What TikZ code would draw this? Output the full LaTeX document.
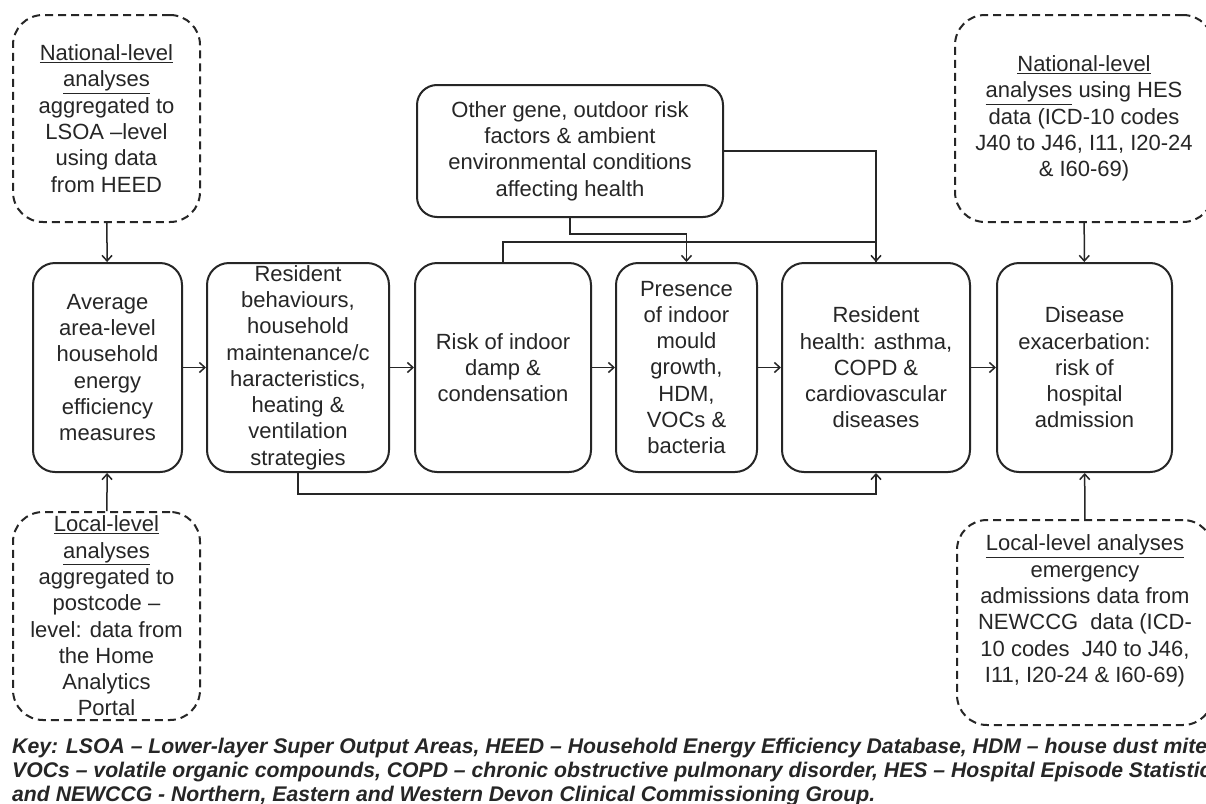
\documentclass[tikz,border=0pt]{standalone}
\usepackage{fontspec}
\setmainfont{Liberation Sans}
\usetikzlibrary{arrows.meta}
\definecolor{ink}{RGB}{38,38,38}
\begin{document}
\begin{tikzpicture}[x=1pt,y=-1pt,
  txt/.style={text=ink, align=center, inner sep=0pt, font=\fontsize{22}{26.3}\selectfont},
  box/.style={txt, draw=ink, line width=2pt, rounded corners=22pt},
  dbox/.style={txt, draw=ink, line width=2pt, dash pattern=on 8pt off 5pt, rounded corners=30pt},
  conn/.style={draw=ink, line width=1.5pt},
  arr/.style={conn, -{Straight Barb[length=5.5pt,width=10pt]}},
]
\useasboundingbox (0,0) rectangle (1206,803);
\clip (0,0) rectangle (1206,803);
\fill[white] (0,0) rectangle (1206,803);

% main chain
\node[box, minimum width=149pt, minimum height=209pt] (b1) at (107.5,367.5)
  {Average\\area-level\\household\\energy\\efficiency\\measures};
\node[box, minimum width=182pt, minimum height=209pt] (b2) at (298,367.5)
  {Resident\\behaviours,\\household\\maintenance/c\\haracteristics,\\heating \&\\ventilation\\strategies};
\node[box, minimum width=176pt, minimum height=209pt] (b3) at (503,367.5)
  {Risk of indoor\\damp \&\\condensation};
\node[box, minimum width=141pt, minimum height=209pt] (b4) at (686.5,367.5)
  {Presence\\of indoor\\mould\\growth,\\HDM,\\VOCs \&\\bacteria};
\node[box, minimum width=188pt, minimum height=209pt] (b5) at (876,367.5)
  {Resident\\health: asthma,\\COPD \&\\cardiovascular\\diseases};
\node[box, minimum width=175pt, minimum height=209pt] (b6) at (1084.5,367.5)
  {Disease\\exacerbation:\\risk of\\hospital\\admission};

% other factors
\node[box, rounded corners=20pt, minimum width=306pt, minimum height=132pt] (oth) at (570,151)
  {Other gene, outdoor risk\\factors \& ambient\\environmental conditions\\affecting health};

% dashed data boxes
\node[dbox, minimum width=187pt, minimum height=207pt] (tl) at (106.5,118.5)
  {\underline{National-level}\\\underline{analyses}\\aggregated to\\LSOA –level\\using data\\from HEED};
\node[dbox, minimum width=187pt, minimum height=208pt] (bl) at (106.5,616)
  {\underline{Local-level}\\\underline{analyses}\\aggregated to\\postcode –\\level: data from\\the Home\\Analytics\\Portal};
\node[dbox, minimum width=258pt, minimum height=207pt] (tr) at (1084,118.5)
  {\underline{National-level}\\\underline{analyses} using HES\\data (ICD-10 codes\\J40 to J46, I11, I20-24\\\& I60-69)};
\node[dbox, minimum width=256pt, minimum height=205pt] (br) at (1085,622.5) {};
\node[txt] (brt) at (1085,611)
  {\underline{Local-level analyses}\\emergency\\admissions data from\\NEWCCG\ \ data (ICD-\\10 codes\ \ J40 to J46,\\I11, I20-24 \& I60-69)};

% connectors
\draw[arr] (tl) -- (b1);
\draw[arr] (bl) -- (b1);
\draw[arr] (tr) -- (b6);
\draw[arr] (br) -- (b6);
\draw[arr] (b1) -- (b2);
\draw[arr] (b2) -- (b3);
\draw[arr] (b3) -- (b4);
\draw[arr] (b4) -- (b5);
\draw[arr] (b5) -- (b6);
\draw[arr] (oth.south) -- ++(0,16) -| (b4.north);
\draw[arr] (oth.east) -| (b5.north);
\draw[conn] (b3.north) -- ++(0,-20) -| (b5.north);
\draw[arr] (b2.south) -- ++(0,21) -| (b5.south);

% key
\node[anchor=north west, align=left, inner sep=0pt, text=ink,
      font=\fontsize{21.2}{24.3}\selectfont\bfseries\itshape] (key) at (12,737.5)
  {Key: LSOA – Lower-layer Super Output Areas, HEED – Household Energy Efficiency Database, HDM – house dust mites,\\
   VOCs – volatile organic compounds, COPD – chronic obstructive pulmonary disorder, HES – Hospital Episode Statistics\\
   and NEWCCG - Northern, Eastern and Western Devon Clinical Commissioning Group.};
\end{tikzpicture}
\end{document}
